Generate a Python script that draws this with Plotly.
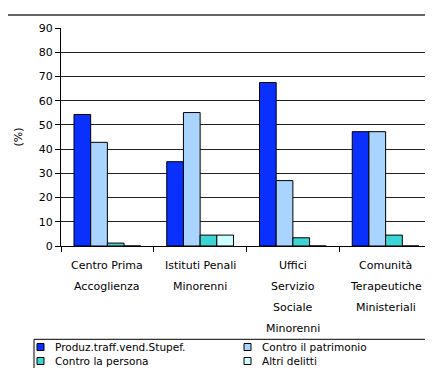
import plotly.graph_objects as go

# ---- data ----
category_lines = [
    ["Centro Prima", "Accoglienza"],
    ["Istituti Penali", "Minorenni"],
    ["Uffici", "Servizio", "Sociale", "Minorenni"],
    ["Comunità", "Terapeutiche", "Ministeriali"],
]
categories = [" ".join(l) for l in category_lines]

series_names = [
    "Produz.traff.vend.Stupef.",
    "Contro il patrimonio",
    "Contro la persona",
    "Altri delitti",
]
stupefacenti = [54.3, 34.8, 67.5, 47.2]
patrimonio = [42.8, 55.1, 27.0, 47.2]
persona = [1.2, 4.5, 3.4, 4.5]
altri = [0.0, 4.5, 0.0, 0.0]
series_values = [stupefacenti, patrimonio, persona, altri]
series_colors = ["#0A30FF", "#A8D4FF", "#3CD4D4", "#CCFFFF"]

y_ticks = list(range(0, 91, 10))

# ---- geometry (screen pixels; the page body has an 8px margin) ----
SW, SH = 433, 368
OFF = 8
W, H = SW - OFF, SH - OFF
PLOT_L, PLOT_R, PLOT_T, PLOT_B = 61, 432, 28, 246
L = PLOT_L - OFF
T = PLOT_T - OFF
R = W - (PLOT_R - OFF)
B = H - (PLOT_B - OFF)
pw, ph = PLOT_R - PLOT_L, PLOT_B - PLOT_T


def px_x(x):
    return (x - PLOT_L) / pw


def px_y(y):
    return (PLOT_B - y) / ph


FONT = "DejaVu Sans, Arial, sans-serif"

fig = go.Figure()
for name, vals, col in zip(series_names, series_values, series_colors):
    fig.add_trace(go.Bar(
        x=categories, y=vals, name=name, showlegend=False,
        marker=dict(color=col, line=dict(color="#000000", width=1)),
    ))

annotations = []
for cat, lines in zip(categories, category_lines):
    for i, line in enumerate(lines):
        annotations.append(dict(
            x=cat, xref="x", y=px_y(265.7 + i * 20.8), yref="paper",
            text=line, showarrow=False, xanchor="center", yanchor="middle",
            font=dict(family=FONT, size=11, color="#000000"),
        ))

shapes = [
    # outer chart frame
    dict(type="rect", xref="paper", yref="paper",
         x0=px_x(7), x1=px_x(431.5), y0=px_y(390), y1=px_y(15),
         line=dict(color="#333333", width=1.5), layer="below"),
    # legend frame
    dict(type="rect", xref="paper", yref="paper",
         x0=px_x(34), x1=px_x(428.3), y0=px_y(390), y1=px_y(339.3),
         line=dict(color="#000000", width=1), layer="below"),
]

# legend (2 columns x 2 rows), built from the series lists
leg_cols = [37, 244]
leg_rows = [347, 361]
for k, (name, col) in enumerate(zip(series_names, series_colors)):
    cx = leg_cols[k % 2]
    cy = leg_rows[k // 2]
    shapes.append(dict(
        type="rect", xref="paper", yref="paper",
        x0=px_x(cx), x1=px_x(cx + 7), y0=px_y(cy + 3.5), y1=px_y(cy - 3.5),
        fillcolor=col, line=dict(color="#000000", width=1), layer="above",
    ))
    annotations.append(dict(
        x=px_x(cx + 16), xref="paper", y=px_y(cy), yref="paper",
        text=name, showarrow=False, xanchor="left", yanchor="middle",
        font=dict(family=FONT, size=10.5, color="#000000"),
    ))

fig.update_layout(
    width=W, height=H,
    margin=dict(l=L, r=R, t=T, b=B, pad=0, autoexpand=False),
    paper_bgcolor="white", plot_bgcolor="white",
    font=dict(family=FONT, size=11, color="#000000"),
    barmode="group", bargap=0.28, bargroupgap=0,
    showlegend=False,
    annotations=annotations,
    shapes=shapes,
)
fig.update_xaxes(
    type="category", showticklabels=False,
    showline=True, linecolor="#000000", linewidth=1,
    ticks="outside", tickson="boundaries", ticklen=5, tickcolor="#000000",
    showgrid=False, zeroline=False,
)
fig.update_yaxes(
    range=[0, 90], tickvals=y_ticks, ticktext=[str(v) for v in y_ticks],
    showline=True, linecolor="#000000", linewidth=1,
    ticks="outside", ticklen=5, tickcolor="#000000",
    showgrid=True, gridcolor="#222222", gridwidth=1, zeroline=False,
    title=dict(text="(%)", standoff=13, font=dict(family=FONT, size=11)),
    tickfont=dict(family=FONT, size=11),
)

fig.write_html("out.html")
